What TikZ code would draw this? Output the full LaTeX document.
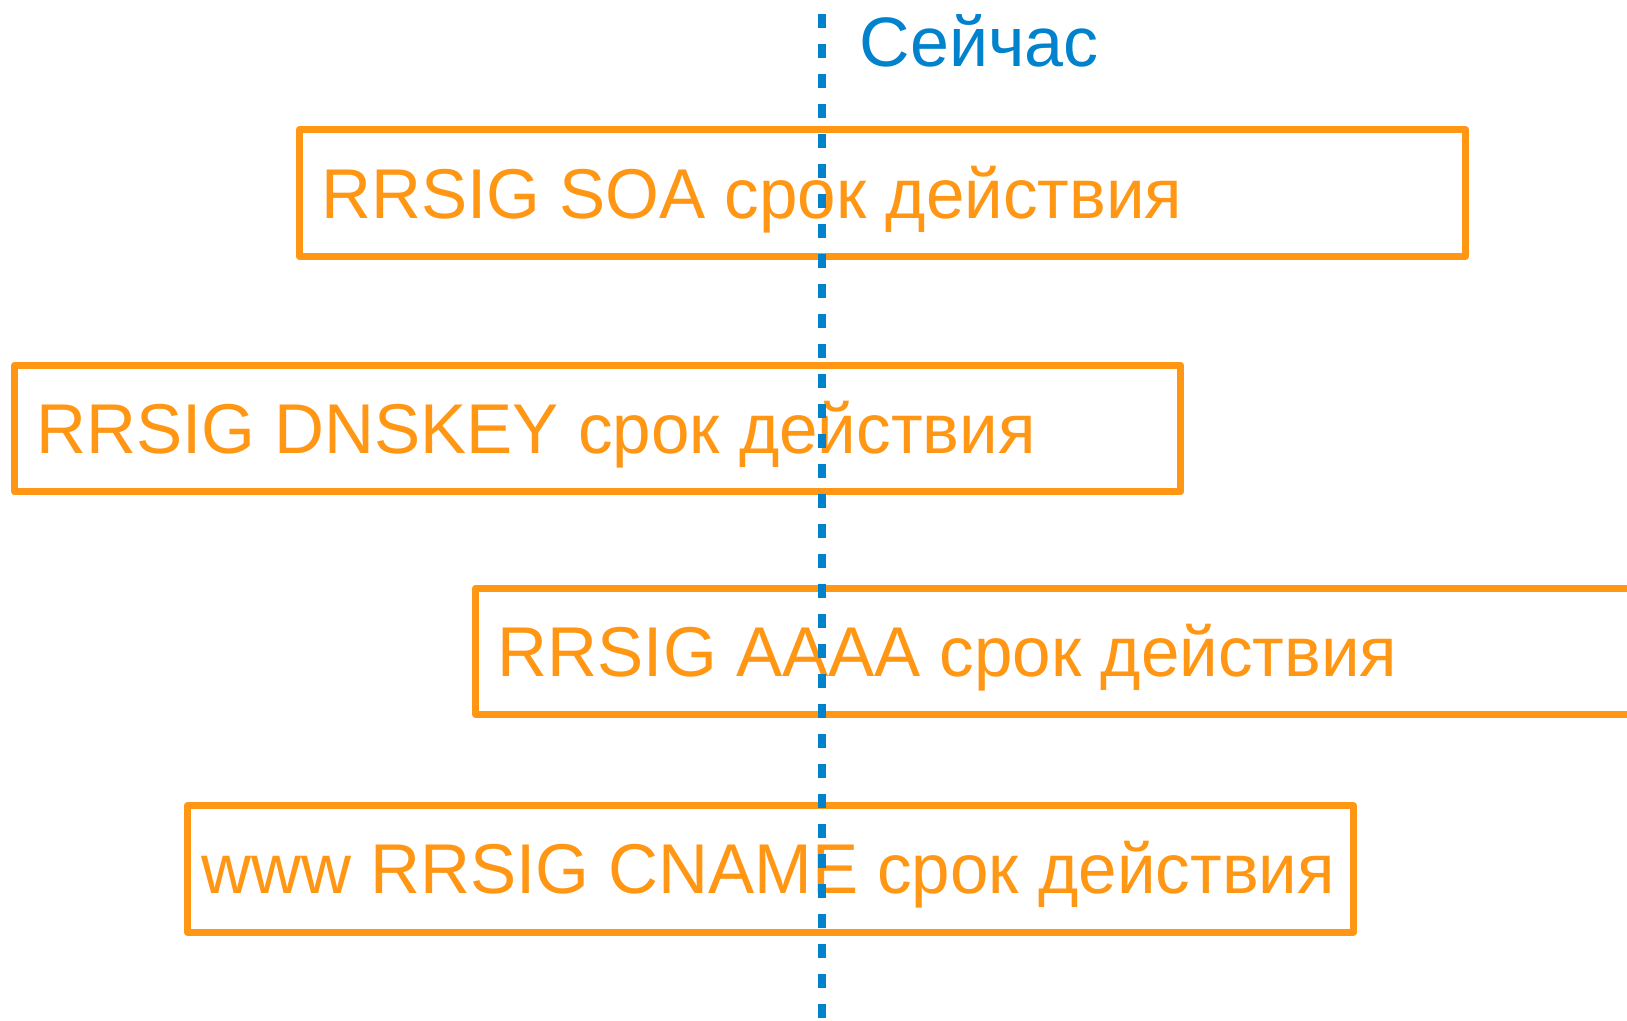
\documentclass[tikz,border=0pt]{standalone}
\usepackage{fontspec}
\setmainfont{Liberation Sans}
\newfontfamily\sigfont[FakeStretch=0.981]{Liberation Sans}
\definecolor{sigorange}{RGB}{255,150,20}
\definecolor{nowblue}{RGB}{0,130,205}
\tikzset{
  sigbox/.style={draw=sigorange, line width=7pt, line join=round, rectangle,
    minimum width=1166pt, minimum height=126.5pt, inner sep=0pt},
  sigtext/.style={anchor=base west, inner sep=0pt, text=sigorange,
    font=\sigfont\fontsize{70.5}{80}\selectfont},
  nowline/.style={draw=nowblue, line width=8pt, dash pattern=on 14pt off 16pt},
  nowtext/.style={anchor=base west, inner sep=0pt, text=nowblue,
    font=\fontsize{70}{80}\selectfont}
}
\begin{document}
\begin{tikzpicture}[x=1pt,y=-1pt]
\useasboundingbox (0,0) rectangle (1627,1020);
\clip (0,0) rectangle (1627,1020);
\node[sigbox] (soa) at (882.4,193.2) {};
\node[sigbox] (dnskey) at (597.7,428.5) {};
\node[sigbox] (aaaa) at (1058.8,651.25) {};
\node[sigbox] (cname) at (770.5,868.9) {};
\node[sigtext] (soat) at (321,218.3) {RRSIG SOA срок действия};
\node[sigtext] (dnskeyt) at (36,453.3) {RRSIG DNSKEY срок действия};
\node[sigtext] (aaaat) at (497.7,676) {RRSIG AAAA срок действия};
\node[sigtext] (cnamet) at (201,893.3) {www RRSIG CNAME срок действия};
\coordinate (ltop) at (822,13.5);
\coordinate (lbot) at (822,1030);
\draw[nowline] (ltop) -- (lbot);
\node[nowtext] (now) at (859.5,66) {Сейчас};
\end{tikzpicture}
\end{document}
